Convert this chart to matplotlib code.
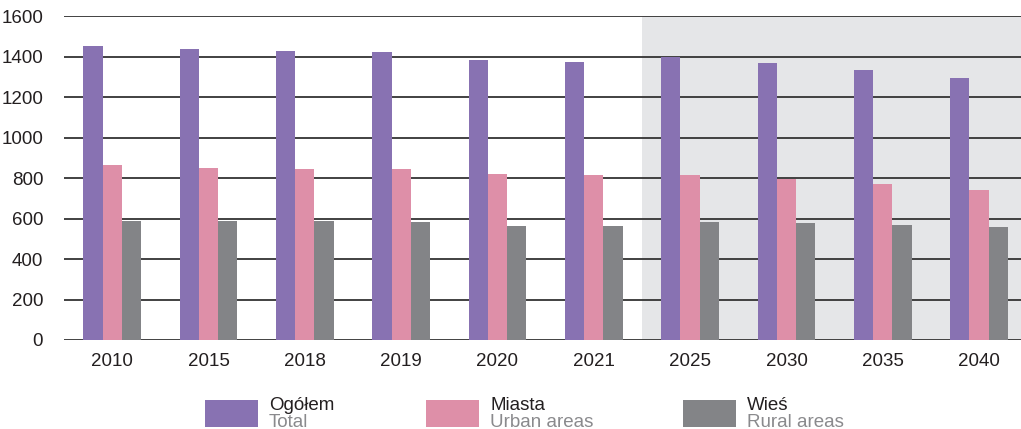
import numpy as np
import matplotlib.pyplot as plt
from matplotlib.patches import Rectangle

plt.rcParams['font.family'] = ['Liberation Sans', 'DejaVu Sans']

# Data
years = ['2010', '2015', '2018', '2019', '2020', '2021', '2025', '2030', '2035', '2040']
total = [1452, 1437, 1427, 1422, 1384, 1374, 1398, 1369, 1335, 1295]
urban = [864, 850, 845, 845, 820, 815, 815, 795, 770, 740]
rural = [587, 587, 587, 582, 562, 562, 582, 577, 567, 557]
yticks = [0, 200, 400, 600, 800, 1000, 1200, 1400, 1600]
forecast_start = 6  # index of first projected year

c_total = '#8872b2'
c_urban = '#de8fa8'
c_rural = '#838487'
text_col = '#231f20'

W, H = 1021, 429
fig = plt.figure(figsize=(W / 100, H / 100), dpi=100)
ax = fig.add_axes([64 / W, (H - 340) / H, 1 - 64 / W, 324 / H])

x = np.arange(len(years))
bw = 0.2

# shaded forecast region
ax.axvspan(forecast_start - 0.5, len(years) + 1, color='#e5e6e8', zorder=0, lw=0)

ax.bar(x - bw, total, bw, color=c_total, zorder=3)
ax.bar(x, urban, bw, color=c_urban, zorder=3)
ax.bar(x + bw, rural, bw, color=c_rural, zorder=3)

ax.set_ylim(0, 1600)
ax.set_xlim(-0.5, 9.435)
ax.set_yticks(yticks)
ax.set_xticks(x)
ax.set_xticklabels(years)
ax.yaxis.grid(True, color='#333333', lw=1.3, zorder=1)
ax.set_axisbelow(True)
for s in ax.spines.values():
    s.set_visible(False)
ax.tick_params(axis='both', length=0, labelsize=13.5, colors=text_col)
ax.tick_params(axis='y', pad=15)
ax.tick_params(axis='x', pad=9)

# legend built by hand (two-line labels)
legend = [(c_total, 'Ogółem', 'Total', 205),
          (c_urban, 'Miasta', 'Urban areas', 426),
          (c_rural, 'Wieś', 'Rural areas', 683)]
for col, pl, en, px in legend:
    fig.add_artist(Rectangle((px / W, (H - 427) / H), 53 / W, 27 / H,
                             transform=fig.transFigure, color=col, lw=0))
    fig.text((px + 64) / W, (H - 410) / H, pl, fontsize=13.5, color=text_col,
             va='baseline', ha='left')
    fig.text((px + 64) / W, (H - 427) / H, en, fontsize=13.5, color='#8a8a8d',
             va='baseline', ha='left')

fig.savefig('out.png', dpi=100)
